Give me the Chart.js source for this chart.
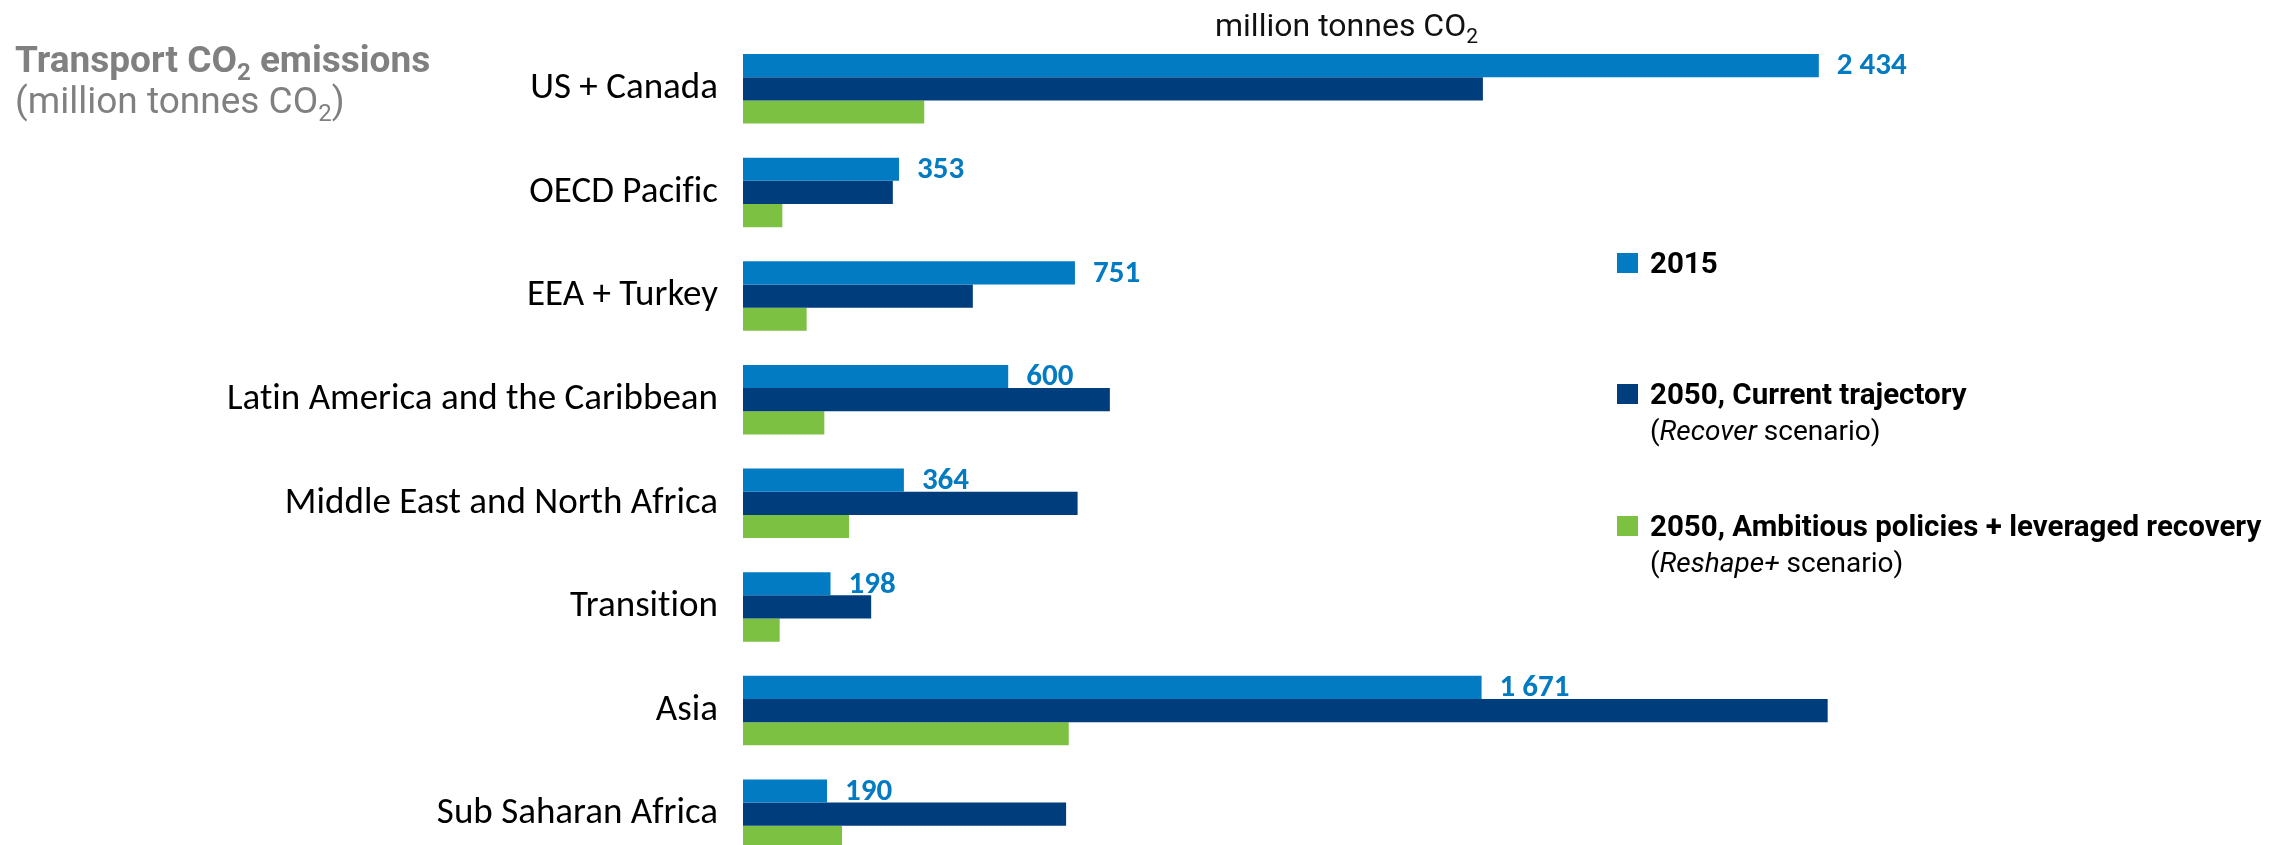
<!DOCTYPE html>
<html>
<head>
<meta charset="utf-8">
<script src="https://cdn.jsdelivr.net/npm/chart.js@4.4.1/dist/chart.umd.min.js"></script>
<style>
  html, body { margin: 0; padding: 0; background: #fff; overflow: hidden; }
  #wrap { width: 2284px; height: 880px; }
</style>
</head>
<body>
<div id="wrap"><canvas id="chart" width="2284" height="880"></canvas></div>
<script>
const regions = ['US + Canada', 'OECD Pacific', 'EEA + Turkey', 'Latin America and the Caribbean',
  'Middle East and North Africa', 'Transition', 'Asia', 'Sub Saharan Africa'];
const values2015 = [2434, 353, 751, 600, 364, 198, 1671, 190];
const valuesRecover = [1674, 339, 520, 830, 757, 290, 2454, 731];
const valuesReshape = [410, 89, 144, 184, 240, 83, 737, 224];
const seriesNames = ['2015', '2050, Current trajectory', '2050, Ambitious policies + leveraged recovery'];
const seriesNotes = [null, 'Recover', 'Reshape+'];
const seriesColors = ['#027BC2', '#003D7D', '#7DC142'];
const xMax = 3000;

const ROBOTO = 'Roboto, "Noto Sans", sans-serif';
const LABEL_FONT = 'Carlito, Lato, "Open Sans", sans-serif';

// draws a list of text pieces one after the other, returns end x
function drawRuns(ctx, x, y, runs) {
  for (const r of runs) {
    ctx.font = r.font;
    ctx.fillText(r.text, x, y + (r.dy || 0));
    x += ctx.measureText(r.text).width;
  }
  return x;
}

function fmt(v) {
  return String(v).replace(/\B(?=(\d{3})+(?!\d))/g, ' ');
}

// tiny letter spacing so Lato does not join "ti" into a ligature
const noLigatures = {
  id: 'noLigatures',
  beforeDraw(chart) {
    if ('letterSpacing' in chart.ctx) chart.ctx.letterSpacing = '0.01px';
  }
};

const valueLabels = {
  id: 'valueLabels',
  afterDatasetsDraw(chart) {
    const ctx = chart.ctx;
    const meta = chart.getDatasetMeta(0);
    ctx.save();
    ctx.fillStyle = seriesColors[0];
    ctx.font = 'bold 31px ' + LABEL_FONT;
    ctx.textAlign = 'left';
    ctx.textBaseline = 'middle';
    meta.data.forEach((bar, i) => {
      ctx.fillText(fmt(values2015[i]), bar.x + 18, bar.y + 1);
    });
    ctx.restore();
  }
};

const extras = {
  id: 'extras',
  afterDraw(chart) {
    const ctx = chart.ctx;
    ctx.save();
    ctx.textAlign = 'left';
    ctx.textBaseline = 'alphabetic';

    // title top left
    ctx.fillStyle = '#808080';
    drawRuns(ctx, 15, 72, [
      { text: 'Transport CO', font: 'bold 37px ' + ROBOTO },
      { text: '2', font: 'bold 24px ' + ROBOTO, dy: 8 },
      { text: ' emissions', font: 'bold 37px ' + ROBOTO }
    ]);
    drawRuns(ctx, 15, 113, [
      { text: '(million tonnes CO', font: '37px ' + ROBOTO },
      { text: '2', font: '24px ' + ROBOTO, dy: 8 },
      { text: ')', font: '37px ' + ROBOTO }
    ]);

    // unit above the bars
    ctx.fillStyle = '#111';
    drawRuns(ctx, 1215, 36, [
      { text: 'million tonnes CO', font: '32px ' + ROBOTO },
      { text: '2', font: '21px ' + ROBOTO, dy: 7 }
    ]);

    // legend
    const baselines = [273, 404, 536];
    seriesNames.forEach((name, i) => {
      const y = baselines[i];
      ctx.fillStyle = seriesColors[i];
      ctx.fillRect(1617, y - 20, 21, 20);
      ctx.fillStyle = '#000';
      drawRuns(ctx, 1650, y, [{ text: name, font: 'bold 29.5px ' + ROBOTO }]);
      if (seriesNotes[i]) {
        drawRuns(ctx, 1650, y + 36, [
          { text: '(', font: '28px ' + ROBOTO },
          { text: seriesNotes[i], font: 'italic 28px ' + ROBOTO },
          { text: ' scenario)', font: '28px ' + ROBOTO }
        ]);
      }
    });
    ctx.restore();
  }
};

new Chart(document.getElementById('chart'), {
  type: 'bar',
  data: {
    labels: regions,
    datasets: [
      { label: seriesNames[0], data: values2015, backgroundColor: seriesColors[0] },
      { label: seriesNames[1], data: valuesRecover, backgroundColor: seriesColors[1] },
      { label: seriesNames[2], data: valuesReshape, backgroundColor: seriesColors[2] }
    ]
  },
  options: {
    indexAxis: 'y',
    responsive: false,
    animation: false,
    layout: { padding: { top: 37, bottom: 14, left: 0, right: 215 } },
    datasets: { bar: { categoryPercentage: 0.67, barPercentage: 1.0 } },
    plugins: {
      legend: { display: false },
      tooltip: { enabled: false },
      title: { display: false }
    },
    scales: {
      x: { display: false, min: 0, max: xMax },
      y: {
        grid: { display: false, drawTicks: false },
        border: { display: false },
        ticks: { color: '#000', padding: 25, font: { family: LABEL_FONT, size: 37 } },
        afterFit(scale) {
          scale.width = 743;
          scale.paddingTop = 0;
          scale.paddingBottom = 0;
        }
      }
    }
  },
  plugins: [noLigatures, valueLabels, extras]
});
</script>
</body>
</html>
